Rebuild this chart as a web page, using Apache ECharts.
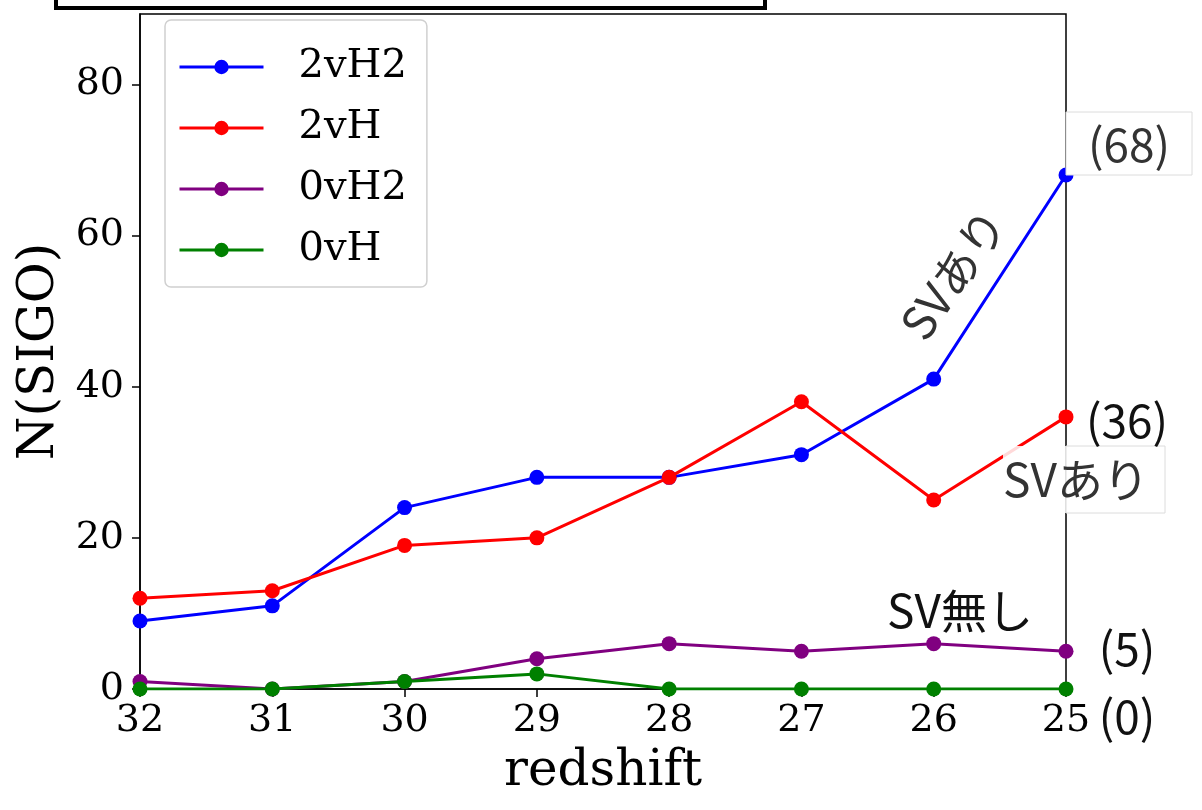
<!DOCTYPE html>
<html><head><meta charset="utf-8">
<script src="https://cdn.jsdelivr.net/npm/echarts@6/dist/echarts.min.js"></script>
<style>html,body{margin:0;padding:0;background:#fff}#c{width:1202px;height:810px}</style>
</head><body><div id="c"></div>
<script>
const redshifts = ['32','31','30','29','28','27','26','25'];
const s2vH2 = [9, 11, 24, 28, 28, 31, 41, 68];
const s2vH  = [12, 13, 19, 20, 28, 38, 25, 36];
const s0vH2 = [1, 0, 1, 4, 6, 5, 6, 5];
const s0vH  = [0, 0, 1, 2, 0, 0, 0, 0];
const yTicks = [0, 20, 40, 60, 80];
const seriesNames = ['2vH2', '2vH', '0vH2', '0vH'];
const seriesColors = ['#0000ff', '#ff0000', '#800080', '#008000'];
const seriesData = [s2vH2, s2vH, s0vH2, s0vH];

const serif = 'DejaVu Serif';
const sans = '"Noto Sans CJK JP", "Noto Sans", sans-serif';

const chart = echarts.init(document.getElementById('c'), null, {renderer: 'canvas'});
chart.setOption({
  backgroundColor: '#fff',
  animation: false,
  grid: {left: 140, right: 136, top: 14, bottom: 121, show: true, borderColor: '#000', borderWidth: 1.5, backgroundColor: 'transparent'},
  legend: {
    orient: 'vertical', left: 165, top: 20,
    data: seriesNames,
    itemWidth: 84, itemHeight: 18, itemGap: 17,
    padding: [25, 20, 15, 13],
    borderColor: '#d0d0d0', borderWidth: 1.5, borderRadius: 6,
    backgroundColor: '#fff',
    lineStyle: {width: 3},
    textStyle: {fontFamily: serif, fontSize: 40, color: '#000', lineHeight: 44, padding: [0, 0, 0, 30]}
  },
  xAxis: {
    type: 'category', boundaryGap: false, data: redshifts,
    name: 'redshift', nameLocation: 'middle', nameGap: 58,
    nameTextStyle: {fontFamily: serif, fontSize: 50, color: '#000'},
    axisLine: {lineStyle: {color: '#000', width: 1.5}},
    axisTick: {length: 8, lineStyle: {color: '#000', width: 1.5}, alignWithLabel: true},
    axisLabel: {fontFamily: serif, fontSize: 38, color: '#000', margin: 13},
    splitLine: {show: false}
  },
  yAxis: {
    type: 'value', min: 0, max: 89.3, interval: 20,
    name: 'N(SIGO)', nameLocation: 'middle', nameGap: 74, nameRotate: 90,
    nameTextStyle: {fontFamily: serif, fontSize: 50, color: '#000'},
    axisLine: {show: true, lineStyle: {color: '#000', width: 1.5}},
    axisTick: {show: true, length: 8, customValues: yTicks, lineStyle: {color: '#000', width: 1.5}},
    axisLabel: {fontFamily: serif, fontSize: 38, color: '#000', margin: 16, customValues: yTicks},
    splitLine: {show: false}
  },
  series: seriesNames.map((n, i) => ({
    name: n, type: 'line', data: seriesData[i],
    symbol: 'circle', symbolSize: 15, clip: true,
    lineStyle: {color: seriesColors[i], width: 3},
    itemStyle: {color: seriesColors[i]},
    z: 2 + i
  })),
  graphic: [
    {type: 'rect', x: 56, y: -4, shape: {width: 709, height: 12}, style: {fill: 'none', stroke: '#000', lineWidth: 4}, z: 100},
    // (68) box
    {type: 'rect', x: 1066, y: 112, shape: {width: 126, height: 63}, style: {fill: '#fff', stroke: '#dcdcdc', lineWidth: 1}, z: 100},
    {type: 'text', x: 1129, y: 145, style: {text: '(68)', font: '46px ' + sans, fill: '#333', align: 'center', verticalAlign: 'middle'}, z: 101},
    // rotated SVあり
    {type: 'text', x: 953, y: 274, rotation: 55 * Math.PI / 180, style: {text: 'SVあり', font: '46px ' + sans, fill: '#333', align: 'center', verticalAlign: 'middle'}, z: 101},
    // (36)
    {type: 'text', x: 1127, y: 421, style: {text: '(36)', font: '46px ' + sans, fill: '#111', align: 'center', verticalAlign: 'middle'}, z: 101},
    // SVあり box
    {type: 'rect', x: 1003, y: 446, shape: {width: 63, height: 67}, style: {fill: 'rgba(255,255,255,0.85)', stroke: 'none'}, z: 100},
    {type: 'rect', x: 1066, y: 446, shape: {width: 99, height: 67}, style: {fill: '#fff', stroke: '#dcdcdc', lineWidth: 1}, z: 100},
    {type: 'text', x: 1076, y: 480, style: {text: 'SVあり', font: '46px ' + sans, fill: '#333', align: 'center', verticalAlign: 'middle'}, z: 101},
    // SV無し
    {type: 'text', x: 960, y: 611, style: {text: 'SV無し', font: '46px ' + sans, fill: '#111', align: 'center', verticalAlign: 'middle'}, z: 101},
    // (5) and (0)
    {type: 'text', x: 1127, y: 649, style: {text: '(5)', font: '46px ' + sans, fill: '#111', align: 'center', verticalAlign: 'middle'}, z: 101},
    {type: 'text', x: 1127, y: 717, style: {text: '(0)', font: '46px ' + sans, fill: '#111', align: 'center', verticalAlign: 'middle'}, z: 101}
  ]
});
</script></body></html>
